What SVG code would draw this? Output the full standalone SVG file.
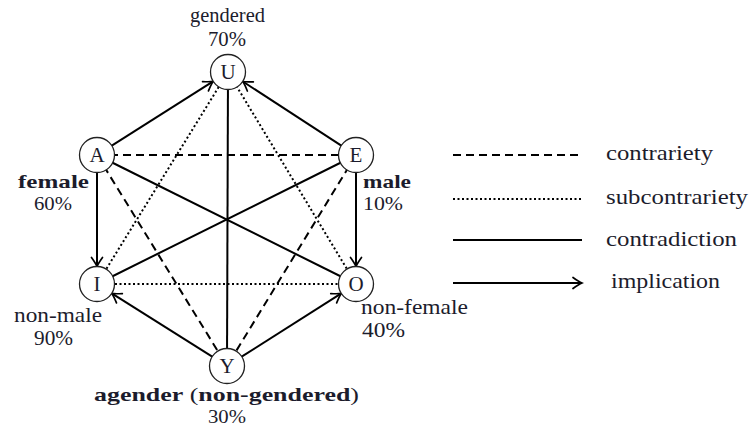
<svg xmlns="http://www.w3.org/2000/svg" width="751" height="429" viewBox="0 0 751 429">
<defs>
<marker id="arr" viewBox="-11 -7 13 14" refX="0" refY="0" markerWidth="13" markerHeight="14" markerUnits="userSpaceOnUse" orient="auto">
<path d="M-9,-5.5 Q-3,-1.2 0,0 Q-3,1.2 -9,5.5" fill="none" stroke="#000" stroke-width="1.7" stroke-linecap="round"/>
</marker>
<style>
text{font-family:'Liberation Serif','Times New Roman',serif;font-size:21px;fill:#1c1c2c}
.b{font-weight:bold}
.s{font-size:19px}
.lg{font-size:22px}
.n{fill:#fff;stroke:#222;stroke-width:1.3}
.sol{stroke:#000;stroke-width:2;fill:none}
.dash{stroke:#000;stroke-width:2;stroke-dasharray:8 5;fill:none}
.dot{stroke:#000;stroke-width:2;stroke-dasharray:2 2.5;fill:none}
.arrow{stroke:#000;stroke-width:2;fill:none;marker-end:url(#arr)}
</style>
</defs>
<rect width="751" height="429" fill="#fff"/>
<g id="connectors">
<line class="dash" x1="97" y1="155" x2="356" y2="155"/>
<line class="dash" x1="97" y1="155" x2="227" y2="366"/>
<line class="dash" x1="356" y1="155" x2="227" y2="366"/>
<line class="dot" x1="97" y1="284" x2="356" y2="284"/>
<line class="dot" x1="97" y1="284" x2="228" y2="72"/>
<line class="dot" x1="356" y1="284" x2="228" y2="72"/>
<line class="sol" x1="228" y1="72" x2="227" y2="366"/>
<line class="sol" x1="97" y1="155" x2="356" y2="284"/>
<line class="sol" x1="356" y1="155" x2="97" y2="284"/>
<line class="arrow" x1="111.4" y1="145.9" x2="213.1" y2="81.4"/>
<line class="arrow" x1="341.7" y1="145.8" x2="242.8" y2="81.5"/>
<line class="arrow" x1="97" y1="172" x2="97" y2="266.5"/>
<line class="arrow" x1="356" y1="172" x2="356" y2="266.5"/>
<line class="arrow" x1="212.6" y1="356.9" x2="111.8" y2="293.4"/>
<line class="arrow" x1="241.3" y1="356.9" x2="341.3" y2="293.4"/>
</g>
<g id="U">
<circle class="n" cx="228" cy="72" r="17.5"/>
<text x="228" y="79" text-anchor="middle">U</text>
<text x="190" y="22" textLength="75" lengthAdjust="spacingAndGlyphs">gendered</text>
<text x="208" y="46" textLength="38" lengthAdjust="spacingAndGlyphs">70%</text>
</g>
<g id="A">
<circle class="n" cx="97" cy="155" r="17.5"/>
<text x="97" y="162" text-anchor="middle">A</text>
<text class="b s" x="18" y="188" textLength="71" lengthAdjust="spacingAndGlyphs">female</text>
<text class="s" x="34" y="210" textLength="38" lengthAdjust="spacingAndGlyphs">60%</text>
</g>
<g id="E">
<circle class="n" cx="356" cy="155" r="17.5"/>
<text x="356" y="162" text-anchor="middle">E</text>
<text class="b s" x="363" y="188" textLength="48" lengthAdjust="spacingAndGlyphs">male</text>
<text class="s" x="363" y="210" textLength="40" lengthAdjust="spacingAndGlyphs">10%</text>
</g>
<g id="I">
<circle class="n" cx="97" cy="284" r="17.5"/>
<text x="97" y="291" text-anchor="middle">I</text>
<text x="14" y="322" textLength="88" lengthAdjust="spacingAndGlyphs">non-male</text>
<text x="34" y="345" textLength="39" lengthAdjust="spacingAndGlyphs">90%</text>
</g>
<g id="O">
<circle class="n" cx="356" cy="284" r="17.5"/>
<text x="356" y="291" text-anchor="middle">O</text>
<text x="361" y="314" textLength="107" lengthAdjust="spacingAndGlyphs">non-female</text>
<text x="362" y="337" textLength="43" lengthAdjust="spacingAndGlyphs">40%</text>
</g>
<g id="Y">
<circle class="n" cx="227" cy="366" r="17.5"/>
<text x="227" y="373" text-anchor="middle">Y</text>
<text class="s" x="94" y="401" textLength="265" lengthAdjust="spacingAndGlyphs"><tspan class="b">agender</tspan> (<tspan class="b">non-gendered</tspan>)</text>
<text class="s" x="208" y="423" textLength="38" lengthAdjust="spacingAndGlyphs">30%</text>
</g>
<g id="legend">
<line class="dash" x1="453" y1="155" x2="582" y2="155"/>
<line class="dot" x1="453" y1="199" x2="582" y2="199"/>
<line class="sol" x1="453" y1="240" x2="582" y2="240"/>
<line class="arrow" x1="453" y1="283" x2="582" y2="283"/>
<text class="lg" x="606" y="160" textLength="107" lengthAdjust="spacingAndGlyphs">contrariety</text>
<text class="lg" x="606" y="204" textLength="142" lengthAdjust="spacingAndGlyphs">subcontrariety</text>
<text class="lg" x="606" y="246" textLength="131" lengthAdjust="spacingAndGlyphs">contradiction</text>
<text class="lg" x="611" y="288" textLength="109" lengthAdjust="spacingAndGlyphs">implication</text>
</g>
</svg>
